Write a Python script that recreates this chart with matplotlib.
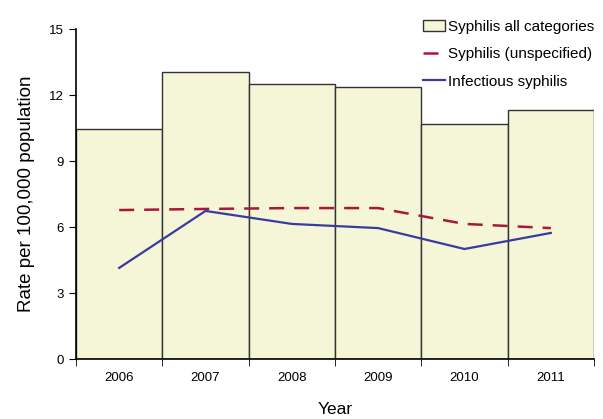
import numpy as np
import matplotlib.pyplot as plt
from matplotlib.ticker import MultipleLocator

plt.rcParams['font.family'] = ['Liberation Sans', 'DejaVu Sans']

years = [2006, 2007, 2008, 2009, 2010, 2011]
all_categories = [10.45, 13.05, 12.5, 12.36, 10.68, 11.3]
unspecified = [6.77, 6.82, 6.86, 6.86, 6.14, 5.95]
infectious = [4.14, 6.73, 6.14, 5.95, 5.0, 5.73]

fig = plt.figure(figsize=(6.03, 4.19), dpi=100)
ax = fig.add_axes([76 / 603, 1 - 359 / 419, 518 / 603, 330 / 419])

x = np.arange(len(years))
bars = ax.bar(x, all_categories, width=1.0, color='#f5f5d7', edgecolor='#333333',
              linewidth=1.0, label='Syphilis all categories')
l1, = ax.plot(x, unspecified, color='#a8183a', linestyle=(0, (6, 4)), linewidth=1.8,
              label='Syphilis (unspecified)')
l2, = ax.plot(x, infectious, color='#3a3aa0', linewidth=1.6, label='Infectious syphilis')

ax.set_xlim(-0.5, len(years) - 0.5)
ax.set_ylim(0, 15)
ax.yaxis.set_major_locator(MultipleLocator(3))
ax.set_xticks(x)
ax.set_xticklabels([str(y) for y in years])
ax.set_xticks(np.arange(-0.5, len(years)), minor=True)
ax.tick_params(axis='x', which='major', length=0, pad=9, labelsize=9.5)
ax.tick_params(axis='x', which='minor', length=5, direction='out')
ax.tick_params(axis='y', length=5, direction='out', labelsize=9.5)

for side in ['top', 'right']:
    ax.spines[side].set_visible(False)
ax.spines['left'].set_linewidth(1.2)
ax.spines['bottom'].set_linewidth(1.2)

ax.set_xlabel('Year', fontsize=12.5, labelpad=13)
ax.set_ylabel('Rate per 100,000 population', fontsize=13.5, labelpad=10)

fig.legend([bars, l1, l2], [bars.get_label(), l1.get_label(), l2.get_label()],
           loc='upper right', bbox_to_anchor=(1.0, 0.975), frameon=False,
           fontsize=11, handlelength=1.4, handletextpad=0.2, labelspacing=0.88,
           borderaxespad=0.2)

fig.savefig('out.png', dpi=100)
